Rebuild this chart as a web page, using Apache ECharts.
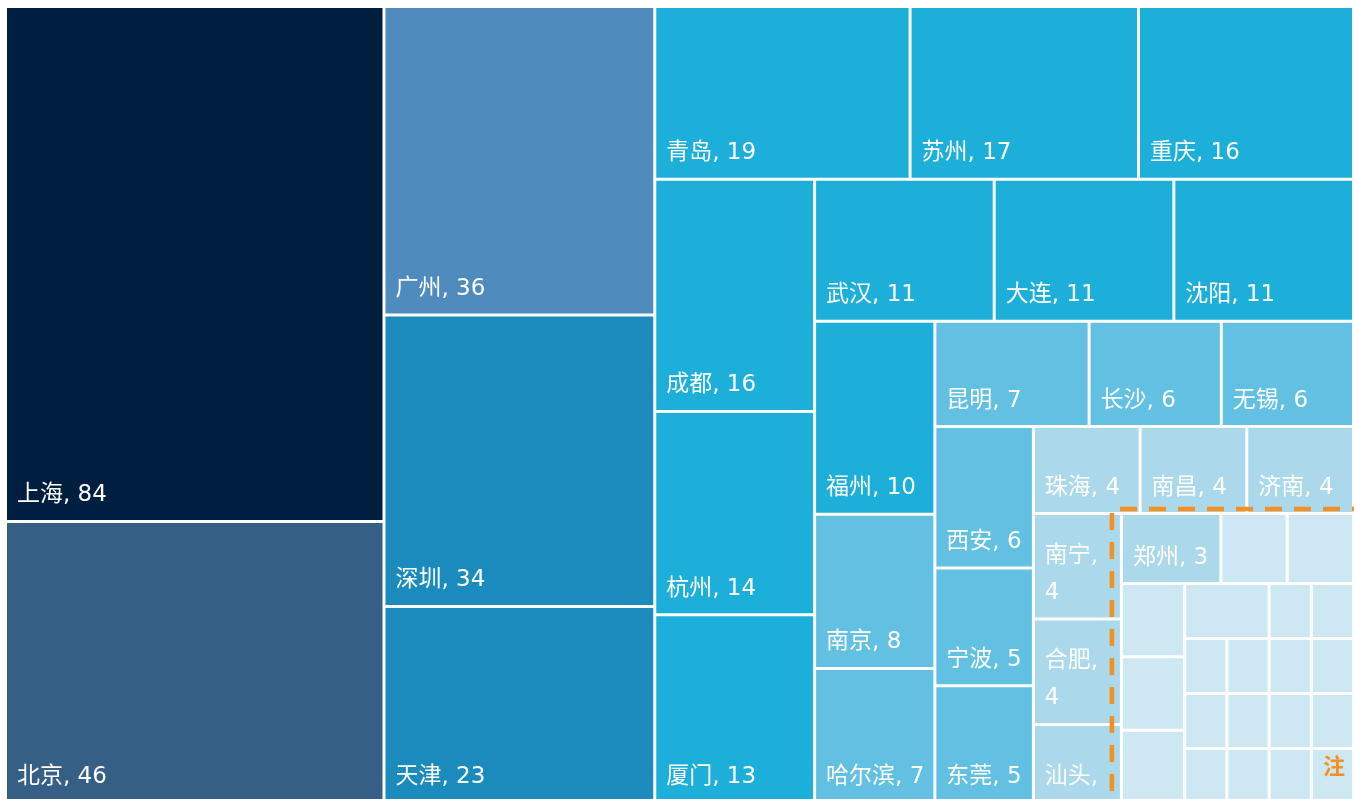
<!DOCTYPE html>
<html>
<head>
<meta charset="utf-8">
<script src="https://cdn.jsdelivr.net/npm/echarts@6/dist/echarts.min.js"></script>
<style>
  html, body { margin: 0; padding: 0; background: #fff; }
  #main { width: 1354px; height: 799px; }
</style>
</head>
<body>
<div id="main"></div>
<script>
// city names and counts, in the order the cells are laid out
var cities = ['上海', '北京', '广州', '深圳', '天津', '青岛', '苏州', '重庆', '成都', '杭州',
  '厦门', '武汉', '大连', '沈阳', '福州', '南京', '哈尔滨', '昆明', '长沙', '无锡',
  '西安', '宁波', '东莞', '珠海', '南昌', '济南', '南宁', '合肥', '汕头', '郑州'];
var counts = [84, 46, 36, 34, 23, 19, 17, 16, 16, 14,
  13, 11, 11, 11, 10, 8, 7, 7, 6, 6,
  6, 5, 5, 4, 4, 4, 4, 4, 3, 3];
// unlabeled small cells (no names visible)
var otherCounts = [2, 2, 2, 2, 2, 2, 1, 1, 1, 1, 1, 1, 1, 1, 1, 1, 1, 1, 1, 1];

function colorFor(v) {
  if (v >= 80) return '#001f40';
  if (v >= 40) return '#365f85';
  if (v >= 35) return '#4f8bbc';
  if (v >= 20) return '#1a8bbc';
  if (v >= 9) return '#1cafd9';
  if (v >= 5) return '#62c1e2';
  if (v >= 3) return '#acd8eb';
  return '#cde8f2';
}

var treeData = [];
cities.forEach(function (c, i) {
  treeData.push({ name: c, value: counts[i], itemStyle: { color: colorFor(counts[i]) } });
});
otherCounts.forEach(function (v, i) {
  treeData.push({ name: '其他' + (i + 1), value: v, itemStyle: { color: colorFor(v) } });
});

var myChart = echarts.init(document.getElementById('main'));
var option = {
  animation: false,
  series: [
    {
      type: 'treemap',
      left: 7,
      top: 8,
      width: 1345,
      height: 794,
      roam: false,
      nodeClick: false,
      sort: false,
      squareRatio: 0.9,
      breadcrumb: { show: false },
      itemStyle: { gapWidth: 3, borderWidth: 0, borderColor: '#fff' },
      label: {
        show: true,
        position: 'insideBottomLeft',
        distance: 0,
        padding: [0, 4, 6, 10],
        color: '#fff',
        fontSize: 23,
        lineHeight: 37,
        fontFamily: 'DejaVu Sans, Noto Sans CJK SC, sans-serif',
        overflow: 'break',
        formatter: function (p) {
          return p.value >= 3 ? p.name + ', ' + p.value : '';
        }
      },
      emphasis: { disabled: true },
      data: treeData
    }
  ]
};
myChart.setOption(option);

// annotation: dashed box around the smallest cities, starting at 郑州's cell
var cornerX = 1112, cornerY = 509;
try {
  var data = myChart.getModel().getSeriesByIndex(0).getData();
  data.tree.root.children.forEach(function (node) {
    if (node.name === '郑州') {
      var l = node.getLayout();
      cornerX = 7 + l.x - 11;
      cornerY = 8 + l.y - 6;
    }
  });
} catch (e) {}

myChart.setOption({
  graphic: [
    {
      type: 'polyline',
      z: 100,
      shape: { points: [[cornerX, 820], [cornerX, cornerY], [1370, cornerY]] },
      style: { fill: null, stroke: '#f5901e', lineWidth: 4.5, lineDash: [17, 12] }
    },
    {
      type: 'text',
      z: 100,
      right: 9,
      top: 755,
      style: { text: '注', fill: '#f5901e', font: 'bold 22px Noto Sans CJK SC' }
    }
  ]
});
</script>
</body>
</html>
